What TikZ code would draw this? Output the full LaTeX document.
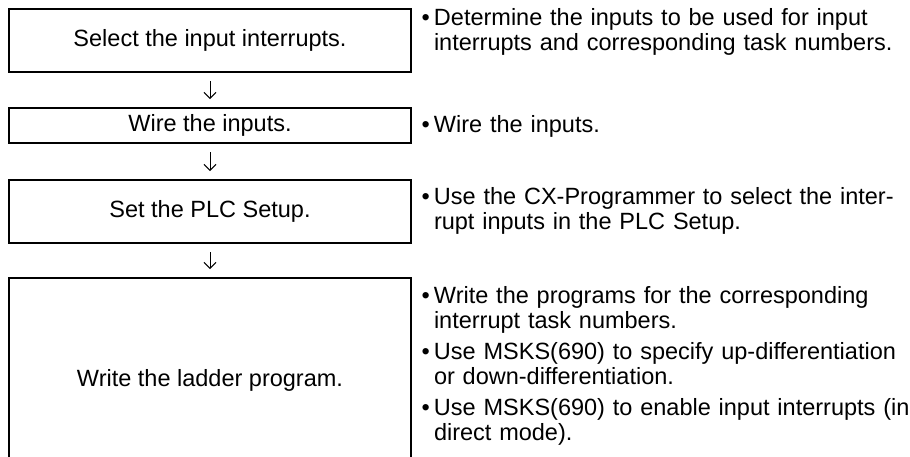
\documentclass[tikz,border=0pt]{standalone}
\usepackage{fontspec}
\setmainfont{Liberation Sans}
\usetikzlibrary{arrows.meta}
\newlength{\bw}
\setlength{\bw}{13pt}
\newcommand{\bul}{\makebox[\bw][l]{\hspace{0.5pt}•}}
\begin{document}
\begin{tikzpicture}[x=1pt,y=-1pt,
  every node/.style={inner sep=0pt,outer sep=0pt,font=\fontsize{23.5}{25}\selectfont},
  stepbox/.style={draw,line width=1.3pt,minimum width=402pt,text height=17pt,text depth=5pt,anchor=center},
  desc/.style={anchor=base west,text width=560pt,align=left},
  flow/.style={line width=1pt,-{Straight Barb[length=6pt,width=12pt,line width=1pt]},shorten <=9pt,shorten >=9pt}]
\path[use as bounding box] (0,0) rectangle (910,456);
\clip (0,0) rectangle (910,456);
\fill[white] (0,0) rectangle (910,456);
% steps
\node[stepbox,minimum height=63pt] (b1) at (210,40.5) {Select the input interrupts.};
\node[stepbox,minimum height=35pt] (b2) at (210,125.5) {Wire the inputs.};
\node[stepbox,minimum height=63pt] (b3) at (210,211.5) {Set the PLC Setup.};
\node[stepbox,minimum height=204pt] (b4) at (210,380) {Write the ladder program.};
% connectors
\draw[flow] (b1.south) -- (b2.north);
\draw[flow] (b2.south) -- (b3.north);
\draw[flow] (b3.south) -- (b4.north);
% descriptions
\node[desc] (d1) at (421,25) {\bul Determine the inputs to be used for input\\\hspace*{\bw}interrupts and corresponding task numbers.};
\node[desc] (d2) at (421,132) {\bul Wire the inputs.};
\node[desc] (d3) at (421,204) {\bul Use the CX-Programmer to select the inter-\\\hspace*{\bw}rupt inputs in the PLC Setup.};
\node[desc] (d4) at (421,303) {\bul Write the programs for the corresponding\\\hspace*{\bw}interrupt task numbers.};
\node[desc] (d5) at (421,359) {\bul Use MSKS(690) to specify up-differentiation\\\hspace*{\bw}or down-differentiation.};
\node[desc] (d6) at (421,415) {\bul Use MSKS(690) to enable input interrupts (in\\\hspace*{\bw}direct mode).};
\end{tikzpicture}
\end{document}
